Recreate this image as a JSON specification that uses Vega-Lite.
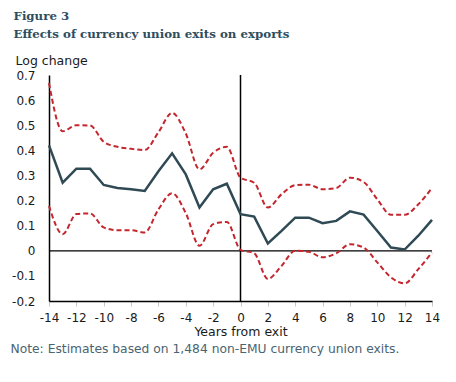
{
  "$schema": "https://vega.github.io/schema/vega-lite/v6.json",
  "width": 383,
  "height": 226,
  "autosize": {"type": "none"},
  "padding": {"left": 49, "top": 75, "right": 24, "bottom": 81},
  "background": "white",
  "config": {
    "view": {"stroke": null},
    "axis": {"grid": false, "labelFont": "DejaVu Sans", "labelFontSize": 12, "labelColor": "#1a1a1a", "titleFont": "DejaVu Sans", "titleFontWeight": "normal", "titleColor": "#1a1a1a"}
  },
  "data": {
    "values": [
      {"year": -14, "estimate": 0.42, "upper": 0.668, "lower": 0.179},
      {"year": -13, "estimate": 0.271, "upper": 0.476, "lower": 0.066},
      {"year": -12, "estimate": 0.327, "upper": 0.5, "lower": 0.146},
      {"year": -11, "estimate": 0.327, "upper": 0.499, "lower": 0.149},
      {"year": -10, "estimate": 0.262, "upper": 0.434, "lower": 0.093},
      {"year": -9, "estimate": 0.25, "upper": 0.414, "lower": 0.082},
      {"year": -8, "estimate": 0.245, "upper": 0.406, "lower": 0.082},
      {"year": -7, "estimate": 0.238, "upper": 0.401, "lower": 0.073},
      {"year": -6, "estimate": 0.317, "upper": 0.472, "lower": 0.165},
      {"year": -5, "estimate": 0.388, "upper": 0.549, "lower": 0.229},
      {"year": -4, "estimate": 0.304, "upper": 0.467, "lower": 0.15},
      {"year": -3, "estimate": 0.172, "upper": 0.324, "lower": 0.02},
      {"year": -2, "estimate": 0.245, "upper": 0.39, "lower": 0.106},
      {"year": -1, "estimate": 0.267, "upper": 0.414, "lower": 0.115},
      {"year": 0, "estimate": 0.146, "upper": 0.291, "lower": 0.004},
      {"year": 1, "estimate": 0.136, "upper": 0.271, "lower": -0.01},
      {"year": 2, "estimate": 0.029, "upper": 0.172, "lower": -0.112},
      {"year": 3, "estimate": 0.079, "upper": 0.225, "lower": -0.06},
      {"year": 4, "estimate": 0.132, "upper": 0.261, "lower": 0.0},
      {"year": 5, "estimate": 0.132, "upper": 0.263, "lower": -0.004},
      {"year": 6, "estimate": 0.11, "upper": 0.245, "lower": -0.026},
      {"year": 7, "estimate": 0.119, "upper": 0.25, "lower": -0.01},
      {"year": 8, "estimate": 0.157, "upper": 0.291, "lower": 0.026},
      {"year": 9, "estimate": 0.144, "upper": 0.274, "lower": 0.013},
      {"year": 10, "estimate": 0.079, "upper": 0.205, "lower": -0.046},
      {"year": 11, "estimate": 0.013, "upper": 0.143, "lower": -0.106},
      {"year": 12, "estimate": 0.005, "upper": 0.143, "lower": -0.13},
      {"year": 13, "estimate": 0.06, "upper": 0.185, "lower": -0.073},
      {"year": 14, "estimate": 0.123, "upper": 0.25, "lower": -0.007}
    ]
  },
  "layer": [
    {
      "data": {"values": [{"from": -14, "to": 14, "level": 0}]},
      "mark": {"type": "rule", "color": "#000000", "strokeWidth": 1.2},
      "encoding": {
        "x": {"field": "from", "type": "quantitative", "scale": {"domain": [-14, 14], "nice": false, "zero": false},
          "axis": {"orient": "bottom", "title": "Note: Estimates based on 1,484 non-EMU currency union exits.", "labels": false, "ticks": false, "domain": false, "titleX": -39, "titleY": 47, "titleAlign": "left", "titleAnchor": "start", "titleBaseline": "middle", "titleFont": "DejaVu Sans", "titleFontSize": 12.3, "titleColor": "#4a6470"}},
        "x2": {"field": "to"},
        "y": {"field": "level", "type": "quantitative", "scale": {"domain": [-0.2, 0.7], "nice": false, "zero": false},
          "axis": {"title": "Log change", "values": [-0.2, -0.1, 0, 0.1, 0.2, 0.3, 0.4, 0.5, 0.6, 0.7], "labelExpr": "'' + datum.value", "labelFlush": false, "ticks": false, "tickSize": 0, "labelPadding": 14, "domainColor": "#000000", "domainWidth": 1.5, "titleAngle": 0, "titleX": -34, "titleY": -15, "titleAlign": "left", "titleBaseline": "middle", "titleFontSize": 12.5}}
      }
    },
    {
      "data": {"values": [{"year": 0}]},
      "mark": {"type": "rule", "color": "#000000", "strokeWidth": 1.5},
      "encoding": {
        "x": {"field": "year", "type": "quantitative", "scale": {"domain": [-14, 14], "nice": false, "zero": false},
          "axis": {"orient": "top", "title": ["Figure 3", "Effects of currency union exits on exports"], "labels": false, "ticks": false, "domain": false, "titleX": -36, "titleY": -55.5, "titleAlign": "left", "titleAnchor": "start", "titleBaseline": "alphabetic", "titleFont": "DejaVu Serif", "titleFontSize": 11.8, "titleFontWeight": "bold", "titleColor": "#2e4e5e", "titleLineHeight": 18}}
      }
    },
    {
      "mark": {"type": "line", "color": "#c4262e", "strokeWidth": 2, "strokeDash": [5, 3], "interpolate": "monotone"},
      "encoding": {
        "x": {"field": "year", "type": "quantitative", "scale": {"domain": [-14, 14], "nice": false, "zero": false}, "axis": null},
        "y": {"field": "upper", "type": "quantitative", "scale": {"domain": [-0.2, 0.7], "nice": false, "zero": false},
          "axis": {"title": "Log change", "values": [-0.2, -0.1, 0, 0.1, 0.2, 0.3, 0.4, 0.5, 0.6, 0.7], "labelExpr": "'' + datum.value", "labelFlush": false, "ticks": false, "tickSize": 0, "labelPadding": 14, "domainColor": "#000000", "domainWidth": 1.5, "titleAngle": 0, "titleX": -34, "titleY": -15, "titleAlign": "left", "titleBaseline": "middle", "titleFontSize": 12.5}}
      }
    },
    {
      "mark": {"type": "line", "color": "#c4262e", "strokeWidth": 2, "strokeDash": [5, 3], "interpolate": "monotone"},
      "encoding": {
        "x": {"field": "year", "type": "quantitative", "scale": {"domain": [-14, 14], "nice": false, "zero": false}, "axis": null},
        "y": {"field": "lower", "type": "quantitative", "scale": {"domain": [-0.2, 0.7], "nice": false, "zero": false},
          "axis": {"title": "Log change", "values": [-0.2, -0.1, 0, 0.1, 0.2, 0.3, 0.4, 0.5, 0.6, 0.7], "labelExpr": "'' + datum.value", "labelFlush": false, "ticks": false, "tickSize": 0, "labelPadding": 14, "domainColor": "#000000", "domainWidth": 1.5, "titleAngle": 0, "titleX": -34, "titleY": -15, "titleAlign": "left", "titleBaseline": "middle", "titleFontSize": 12.5}}
      }
    },
    {
      "mark": {"type": "line", "color": "#2f4a55", "strokeWidth": 2.5},
      "encoding": {
        "x": {"field": "year", "type": "quantitative", "scale": {"domain": [-14, 14], "nice": false, "zero": false},
          "axis": {"orient": "bottom", "title": "Years from exit", "values": [-14, -12, -10, -8, -6, -4, -2, 0, 2, 4, 6, 8, 10, 12, 14], "labelExpr": "'' + datum.value", "labelOverlap": false, "labelFlush": false, "labelFontSize": 12, "tickSize": 5, "tickColor": "#c8c8c8", "tickWidth": 1, "labelPadding": 6, "domainColor": "#000000", "domainWidth": 1.5, "titleX": 191.5, "titleY": 30.5, "titleAlign": "center", "titleBaseline": "middle", "titleFontSize": 12.5}},
        "y": {"field": "estimate", "type": "quantitative", "scale": {"domain": [-0.2, 0.7], "nice": false, "zero": false},
          "axis": {"title": "Log change", "values": [-0.2, -0.1, 0, 0.1, 0.2, 0.3, 0.4, 0.5, 0.6, 0.7], "labelExpr": "'' + datum.value", "labelFlush": false, "ticks": false, "tickSize": 0, "labelPadding": 14, "domainColor": "#000000", "domainWidth": 1.5, "titleAngle": 0, "titleX": -34, "titleY": -15, "titleAlign": "left", "titleBaseline": "middle", "titleFontSize": 12.5}}
      }
    }
  ],
  "resolve": {"axis": {"x": "independent"}}
}
